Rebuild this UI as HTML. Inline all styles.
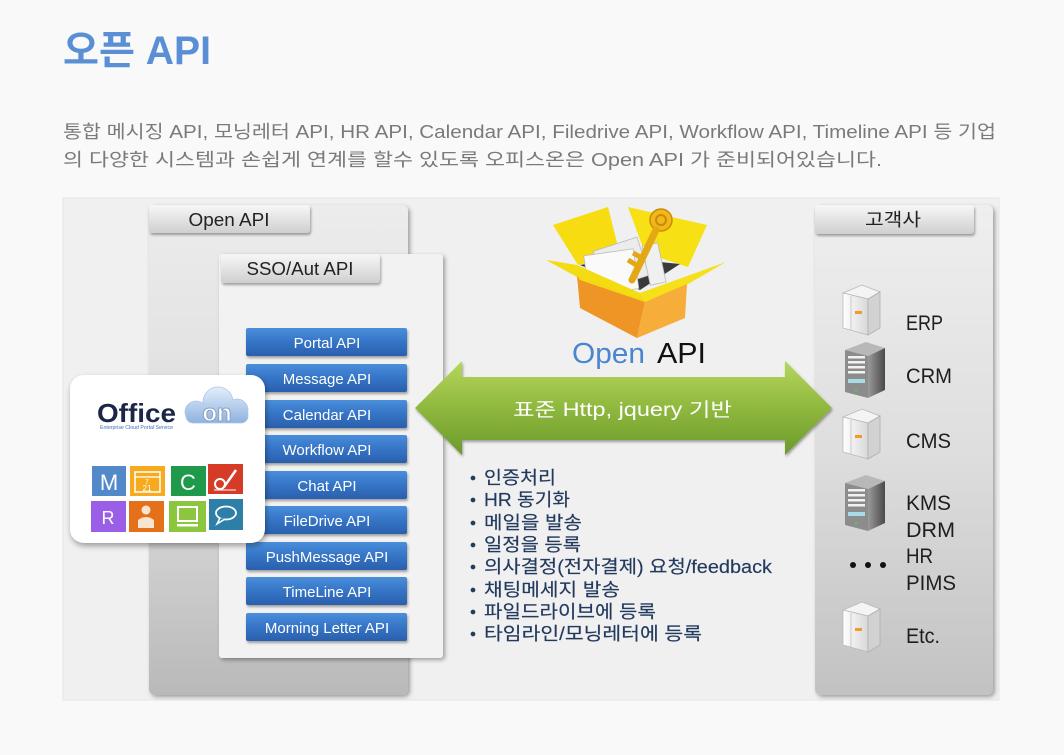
<!DOCTYPE html>
<html><head><meta charset="utf-8"><style>
html,body{margin:0;padding:0;background:#f9f9f9;}
svg{display:block;}
text{font-family:"Liberation Sans","Noto Sans CJK KR",sans-serif;}
</style></head><body>
<svg width="1064" height="755" viewBox="0 0 1064 755" xmlns="http://www.w3.org/2000/svg">
<defs>
<linearGradient id="pL" x1="0" y1="0" x2="0" y2="1"><stop offset="0" stop-color="#ececec"/><stop offset="0.55" stop-color="#dcdcdc"/><stop offset="1" stop-color="#b9b9b9"/></linearGradient>
<linearGradient id="pR" x1="0" y1="0" x2="0" y2="1"><stop offset="0" stop-color="#efefef"/><stop offset="0.5" stop-color="#dedede"/><stop offset="1" stop-color="#c2c2c2"/></linearGradient>
<linearGradient id="tab" x1="0" y1="0" x2="0" y2="1"><stop offset="0" stop-color="#f7f7f7"/><stop offset="1" stop-color="#cfcfcf"/></linearGradient>
<linearGradient id="btn" x1="0" y1="0" x2="0" y2="1"><stop offset="0" stop-color="#4a8fdb"/><stop offset="0.5" stop-color="#3574c6"/><stop offset="1" stop-color="#2a60ad"/></linearGradient>
<linearGradient id="arr" x1="0" y1="0" x2="0" y2="1"><stop offset="0" stop-color="#b6d65c"/><stop offset="0.5" stop-color="#8fb83e"/><stop offset="1" stop-color="#6b9a2a"/></linearGradient>
<linearGradient id="cloud" gradientUnits="userSpaceOnUse" x1="0" y1="386" x2="0" y2="424"><stop offset="0" stop-color="#e6f0fc"/><stop offset="1" stop-color="#8cb0de"/></linearGradient>
<linearGradient id="dsv" x1="0" y1="0" x2="1" y2="0"><stop offset="0" stop-color="#9a9a9a"/><stop offset="1" stop-color="#4a4a4a"/></linearGradient>
<linearGradient id="wsv" x1="0" y1="0" x2="1" y2="0"><stop offset="0" stop-color="#ffffff"/><stop offset="1" stop-color="#d8d8d8"/></linearGradient>
<filter id="sh" x="-10%" y="-10%" width="130%" height="130%"><feDropShadow dx="2" dy="2" stdDeviation="2" flood-color="#000" flood-opacity="0.35"/></filter>
<filter id="sh2" x="-10%" y="-10%" width="130%" height="130%"><feDropShadow dx="1" dy="2" stdDeviation="1.2" flood-color="#000" flood-opacity="0.35"/></filter>
<filter id="sh3" x="-10%" y="-10%" width="130%" height="130%"><feDropShadow dx="1" dy="3" stdDeviation="3" flood-color="#000" flood-opacity="0.35"/></filter>
</defs>

<!-- Title -->
<text x="63" y="64" font-size="40" font-weight="bold" fill="#5a8fd6" textLength="148" lengthAdjust="spacingAndGlyphs">오픈 API</text>
<text x="63" y="138" font-size="18" fill="#7a7a7a" textLength="933" lengthAdjust="spacingAndGlyphs">통합 메시징 API, 모닝레터 API, HR API, Calendar API, Filedrive API, Workflow API, Timeline API 등 기업</text>
<text x="63" y="166" font-size="18" fill="#7a7a7a" textLength="819" lengthAdjust="spacingAndGlyphs">의 다양한 시스템과 손쉽게 연계를 할수 있도록 오피스온은 Open API 가 준비되어있습니다.</text>

<!-- Diagram background -->
<rect x="63" y="198" width="936" height="502" fill="#f0f0f0" stroke="#e6e6e6" stroke-width="1"/>

<!-- Open API panel -->
<rect x="149" y="205" width="259" height="490" rx="6" fill="url(#pL)" filter="url(#sh)"/>
<rect x="149" y="205" width="161" height="28" rx="3" fill="url(#tab)" filter="url(#sh2)"/>
<text x="229" y="226" font-size="18" fill="#222" text-anchor="middle" textLength="81" lengthAdjust="spacingAndGlyphs">Open API</text>

<!-- SSO panel -->
<rect x="219" y="254" width="224" height="404" rx="3" fill="#f2f2f2" filter="url(#sh)"/>
<rect x="221" y="254" width="159" height="29" rx="3" fill="url(#tab)" filter="url(#sh2)"/>
<text x="300" y="275" font-size="18" fill="#222" text-anchor="middle" textLength="107" lengthAdjust="spacingAndGlyphs">SSO/Aut API</text>

<!-- Buttons -->
<g filter="url(#sh2)">
<rect x="246" y="328" width="161" height="28" rx="2" fill="url(#btn)"/>
<rect x="246" y="364" width="161" height="28" rx="2" fill="url(#btn)"/>
<rect x="246" y="400" width="161" height="28" rx="2" fill="url(#btn)"/>
<rect x="246" y="435" width="161" height="28" rx="2" fill="url(#btn)"/>
<rect x="246" y="471" width="161" height="28" rx="2" fill="url(#btn)"/>
<rect x="246" y="506" width="161" height="28" rx="2" fill="url(#btn)"/>
<rect x="246" y="542" width="161" height="28" rx="2" fill="url(#btn)"/>
<rect x="246" y="577" width="161" height="28" rx="2" fill="url(#btn)"/>
<rect x="246" y="613" width="161" height="28" rx="2" fill="url(#btn)"/>
</g>
<g font-size="15" fill="#fff" text-anchor="middle">
<text x="327" y="348">Portal API</text>
<text x="327" y="384">Message API</text>
<text x="327" y="420">Calendar API</text>
<text x="327" y="455">Workflow API</text>
<text x="327" y="491">Chat API</text>
<text x="327" y="526">FileDrive API</text>
<text x="327" y="562">PushMessage API</text>
<text x="327" y="597">TimeLine API</text>
<text x="327" y="633">Morning Letter API</text>
</g>

<!-- Office card -->
<rect x="70" y="375" width="195" height="168" rx="14" fill="#fff" filter="url(#sh3)"/>
<text x="97" y="422" font-size="26" font-weight="bold" fill="#1a2747" textLength="79" lengthAdjust="spacingAndGlyphs">Office</text>
<text x="100" y="429" font-size="5" fill="#3d6fb8" textLength="73" lengthAdjust="spacingAndGlyphs">Enterprise Cloud Portal Service</text>
<g fill="url(#cloud)" stroke="#a9c6ea" stroke-width="0.8">
<circle cx="196" cy="412" r="11"/>
<circle cx="218" cy="402" r="15"/>
<circle cx="237" cy="410" r="11"/>
<rect x="186" y="408" width="62" height="15" rx="7"/>
</g>
<g fill="url(#cloud)">
<circle cx="196" cy="412" r="10.4"/>
<circle cx="218" cy="402" r="14.4"/>
<circle cx="237" cy="410" r="10.4"/>
<rect x="186.5" y="408.5" width="61" height="14" rx="7"/>
</g>
<text x="217" y="421" font-size="24" font-weight="bold" fill="#fff" stroke="#8aa3c4" stroke-width="1" text-anchor="middle">on</text>
<!-- tiles -->
<rect x="92" y="466" width="34" height="30" fill="#5289c8"/>
<text x="109" y="490" font-size="22" fill="#fff" text-anchor="middle">M</text>
<rect x="130" y="466" width="35" height="30" fill="#f7aa1e"/>
<rect x="135" y="472" width="25" height="20" fill="none" stroke="#fff" stroke-width="1.5"/>
<line x1="135" y1="477" x2="160" y2="477" stroke="#fff" stroke-width="1.2"/>
<text x="147" y="484" font-size="7" fill="#fff" text-anchor="middle">7</text>
<text x="147" y="491" font-size="8" fill="#fff" text-anchor="middle">21</text>
<rect x="171" y="466" width="35" height="30" fill="#1f9a4a"/>
<text x="188" y="490" font-size="22" fill="#fff" text-anchor="middle">C</text>
<rect x="208" y="464" width="35" height="30" fill="#d63b28"/>
<circle cx="220" cy="484" r="5" fill="none" stroke="#fff" stroke-width="2"/>
<path d="M224,487 L236,470" stroke="#fff" stroke-width="2.5"/>
<path d="M214,490 L236,490" stroke="#fff" stroke-width="1"/>
<rect x="91" y="501" width="35" height="31" fill="#9b5ee6"/>
<text x="108" y="524" font-size="18" fill="#fff" text-anchor="middle">R</text>
<rect x="129" y="501" width="35" height="31" fill="#e4701a"/>
<circle cx="146" cy="510" r="4.5" fill="#fbe4cf"/>
<path d="M138,528 L138,520 Q146,514 154,520 L154,528 Z" fill="#fbe4cf"/>
<rect x="169" y="501" width="37" height="31" fill="#8cc63f"/>
<rect x="178" y="507" width="19" height="14" fill="none" stroke="#fff" stroke-width="2"/>
<rect x="177" y="524" width="21" height="2.5" fill="#fff"/>
<rect x="209" y="499" width="34" height="31" fill="#2e7fa7"/>
<ellipse cx="226" cy="513" rx="10" ry="6.5" fill="none" stroke="#fff" stroke-width="1.8"/>
<path d="M220,518 L217,524 L225,519" fill="#2e7fa7" stroke="#fff" stroke-width="1.5"/>

<!-- Open API box icon -->
<polygon points="553,225 608,207 620,255 578,265" fill="#f6dc10"/>
<polygon points="628,207 707,225 688,267 645,253" fill="#f7e014"/>
<polygon points="580,265 620,258 680,264 640,290" fill="#3a3a3a"/>
<g transform="rotate(-18 625 262)"><rect x="598" y="242" width="46" height="40" fill="#ececec" stroke="#bbb" stroke-width="0.8"/></g>
<g transform="rotate(-8 612 270)"><rect x="586" y="252" width="50" height="40" fill="#fafafa" stroke="#bbb" stroke-width="0.8"/></g>
<rect x="646" y="244" width="16" height="40" fill="#f0f0f0" stroke="#bbb" stroke-width="0.8" transform="rotate(-12 654 264)"/>
<circle cx="661" cy="220" r="11" fill="#f0b818" stroke="#c98a0a" stroke-width="1.5"/>
<circle cx="661" cy="220" r="5" fill="none" stroke="#c98a0a" stroke-width="2"/>
<path d="M656,230 L632,280" stroke="#e4a815" stroke-width="7" stroke-linecap="round"/>
<path d="M638,266 L628,260 M642,258 L633,253" stroke="#e4a815" stroke-width="5"/>
<polygon points="546,260 577,265 640,293 648,303 577,277" fill="#f3dc12"/>
<polygon points="640,293 726,262 688,284 648,303" fill="#f5e01a"/>
<polygon points="577,276 645,302 637,338 580,308" fill="#ee9526"/>
<polygon points="645,302 687,284 685,318 637,338" fill="#f6ad3a"/>
<polygon points="577,276 645,302 648,303 580,280" fill="#f3dc12"/>

<text x="572" y="363" font-size="29" fill="#4a86d0" textLength="73" lengthAdjust="spacingAndGlyphs">Open</text>
<text x="657" y="363" font-size="29" fill="#111" textLength="49" lengthAdjust="spacingAndGlyphs">API</text>

<!-- Bullet list -->
<g fill="#223a5e" font-size="18" stroke="#223a5e" stroke-width="0.15">
<circle cx="473" cy="478" r="2.3"/><text x="484" y="484" textLength="72" lengthAdjust="spacingAndGlyphs">인증처리</text>
<circle cx="473" cy="500" r="2.3"/><text x="484" y="506" textLength="86" lengthAdjust="spacingAndGlyphs">HR 동기화</text>
<circle cx="473" cy="523" r="2.3"/><text x="484" y="529" textLength="98" lengthAdjust="spacingAndGlyphs">메일을 발송</text>
<circle cx="473" cy="545" r="2.3"/><text x="484" y="551" textLength="97" lengthAdjust="spacingAndGlyphs">일정을 등록</text>
<circle cx="473" cy="567" r="2.3"/><text x="484" y="573" textLength="288" lengthAdjust="spacingAndGlyphs">의사결정(전자결제) 요청/feedback</text>
<circle cx="473" cy="590" r="2.3"/><text x="484" y="596" textLength="136" lengthAdjust="spacingAndGlyphs">채팅메세지 발송</text>
<circle cx="473" cy="612" r="2.3"/><text x="484" y="618" textLength="172" lengthAdjust="spacingAndGlyphs">파일드라이브에 등록</text>
<circle cx="473" cy="634" r="2.3"/><text x="484" y="640" textLength="218" lengthAdjust="spacingAndGlyphs">타임라인/모닝레터에 등록</text>
</g>

<!-- Right panel -->
<rect x="815" y="205" width="178" height="490" rx="6" fill="url(#pR)" filter="url(#sh)"/>
<rect x="815" y="205" width="159" height="29" rx="3" fill="url(#tab)" filter="url(#sh2)"/>
<text x="893" y="226" font-size="18" fill="#222" text-anchor="middle" textLength="56" lengthAdjust="spacingAndGlyphs">고객사</text>

<!-- Green double arrow (drawn over panels) -->
<polygon points="415,408 462,361 462,377 785,377 785,361 832,408 785,455 785,440 462,440 462,455" fill="url(#arr)" filter="url(#sh2)"/>
<text x="513" y="416" font-size="19" fill="#fff" textLength="219" lengthAdjust="spacingAndGlyphs">표준 Http, jquery 기반</text>

<!-- white servers -->
<g id="ws">
<polygon points="843,293 862,285 880,292 868,299" fill="#f4f4f4" stroke="#b8b8b8" stroke-width="0.8"/>
<polygon points="843,293 868,299 868,335 843,328" fill="url(#wsv)" stroke="#b8b8b8" stroke-width="0.8"/>
<polygon points="868,299 880,292 880,328 868,335" fill="#d2d2d2" stroke="#b0b0b0" stroke-width="0.8"/>
<line x1="851" y1="296" x2="851" y2="330" stroke="#c8c8c8" stroke-width="1"/>
<rect x="855" y="311" width="7" height="3" fill="#f29a2a"/>
</g>
<use href="#ws" transform="translate(0,124)"/>
<use href="#ws" transform="translate(0,317)"/>
<!-- dark servers -->
<g id="ds">
<polygon points="845,350 866,342 885,348 868,356" fill="#b8b8b8"/>
<polygon points="845,350 868,356 868,398 845,392" fill="#8c8c8c"/>
<polygon points="868,356 885,348 885,390 868,398" fill="url(#dsv)"/>
<rect x="848" y="356" width="17" height="2.5" fill="#f2f2f2"/>
<rect x="848" y="361" width="17" height="2.5" fill="#f2f2f2"/>
<rect x="848" y="366" width="17" height="2.5" fill="#f2f2f2"/>
<rect x="848" y="371" width="17" height="2.5" fill="#f2f2f2"/>
<rect x="848" y="379" width="17" height="4" fill="#a8dbe8"/>
<circle cx="856" cy="390" r="1.3" fill="#5fc05f"/>
</g>
<use href="#ds" transform="translate(0,133)"/>

<g font-size="21" fill="#1e1e1e">
<text x="906" y="330" textLength="37" lengthAdjust="spacingAndGlyphs">ERP</text>
<text x="906" y="383" textLength="46" lengthAdjust="spacingAndGlyphs">CRM</text>
<text x="906" y="448" textLength="45" lengthAdjust="spacingAndGlyphs">CMS</text>
<text x="906" y="510" textLength="45" lengthAdjust="spacingAndGlyphs">KMS</text>
<text x="906" y="537" textLength="49" lengthAdjust="spacingAndGlyphs">DRM</text>
<text x="906" y="563" textLength="27" lengthAdjust="spacingAndGlyphs">HR</text>
<text x="906" y="590" textLength="50" lengthAdjust="spacingAndGlyphs">PIMS</text>
<text x="906" y="643" textLength="34" lengthAdjust="spacingAndGlyphs">Etc.</text>
</g>
<circle cx="853" cy="565" r="3" fill="#111"/>
<circle cx="868" cy="565" r="3" fill="#111"/>
<circle cx="883" cy="565" r="3" fill="#111"/>
</svg>
</body></html>
